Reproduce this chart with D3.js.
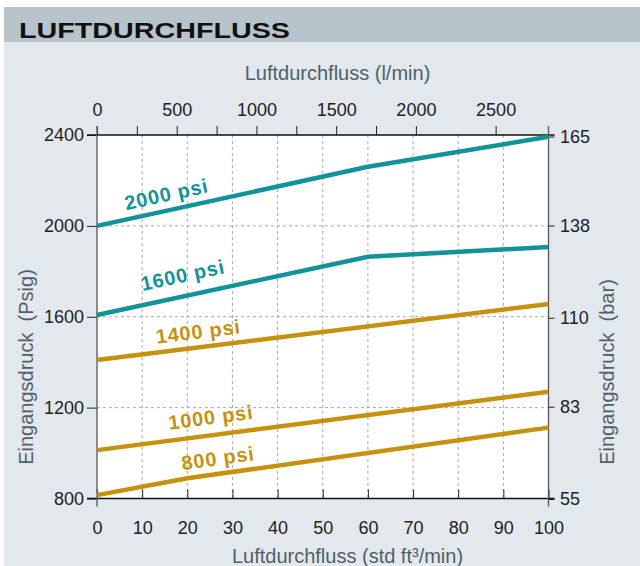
<!DOCTYPE html>
<html>
<head>
<meta charset="utf-8">
<script src="https://cdn.jsdelivr.net/npm/d3@7"></script>
<style>
  body { margin: 0; background: #fff; }
  svg { display: block; font-family: "Liberation Sans", Arial, sans-serif; }
</style>
</head>
<body>
<svg id="chart" width="640" height="566"></svg>
<script>
// Werte (x = std ft3/min, y = psig)
var p2000 = [[0, 2000], [60, 2260], [100, 2392]];
var p1600 = [[0, 1608], [60, 1864], [100, 1907]];
var p1400 = [[0, 1410], [100, 1656]];
var p1000 = [[0, 1013], [100, 1270]];
var p800  = [[0, 815], [20, 889], [100, 1112]];

var seriesNames = ['2000 psi', '1600 psi', '1400 psi', '1000 psi', '800 psi'];
var seriesGroup = ['teal', 'teal', 'gold', 'gold', 'gold'];
// Beschriftungsposition (Mitte der Grundlinie) in Datenwerten
var labelCfm = [15.7, 19.3, 22.6, 25.4, 27];
var labelPsi = [2109, 1753, 1504, 1127, 947];

var cfmTicks = [0, 10, 20, 30, 40, 50, 60, 70, 80, 90, 100];
var lpmTicks = [0, 250, 500, 750, 1000, 1250, 1500, 1750, 2000, 2500];
var psiTicks = [800, 1200, 1600, 2000, 2400];
var barTicks = [55, 83, 110, 138, 165];
var gridCfm = [10, 20, 30, 40, 50, 60, 70, 80, 90];
var gridPsi = [1200, 1600, 2000];

var PSI_PER_BAR = 14.5038;
var LPM_PER_CFM = 28.317;

var colors = { teal: '#12939a', gold: '#c6920e' };

var svg = d3.select('#chart');
var L = 97, R = 548.5, T = 135, B = 498.5;

var x = d3.scaleLinear().domain([0, 100]).range([L, R]);
var xTop = d3.scaleLinear().domain([0, 100 * LPM_PER_CFM]).range([L, R]);
var y = d3.scaleLinear().domain([800, 2400]).range([B, T]);

// Hintergrund
svg.append('rect').attr('x', 4).attr('y', 42).attr('width', 636).attr('height', 524).attr('fill', '#e3e8ec');
svg.append('rect').attr('x', 4).attr('y', 7).attr('width', 636).attr('height', 35).attr('fill', '#b8c4cc');
svg.append('text')
    .attr('x', 19).attr('y', 38)
    .attr('font-size', 21.5).attr('font-weight', 'bold').attr('fill', '#111')
    .attr('textLength', 271).attr('lengthAdjust', 'spacingAndGlyphs')
    .text('LUFTDURCHFLUSS');

svg.append('rect').attr('x', L).attr('y', T).attr('width', R - L).attr('height', B - T).attr('fill', '#fff');

// Gitter
var grid = svg.append('g').attr('stroke', '#a9a9a9').attr('stroke-width', 1).attr('stroke-dasharray', '3,3');
grid.selectAll('line.v').data(gridCfm).enter().append('line')
    .attr('x1', function(d) { return x(d); }).attr('x2', function(d) { return x(d); })
    .attr('y1', T).attr('y2', B);
grid.selectAll('line.h').data(gridPsi).enter().append('line')
    .attr('x1', L).attr('x2', R)
    .attr('y1', function(d) { return y(d); }).attr('y2', function(d) { return y(d); });

// Achsen
function styleAxis(g, size) {
  g.select('.domain').remove();
  g.attr('font-family', null).attr('font-size', size);
  g.selectAll('text').attr('fill', '#222');
  g.selectAll('line').attr('stroke', '#222');
}

svg.append('g').attr('transform', 'translate(' + L + ',0)')
    .call(d3.axisLeft(y).tickValues(psiTicks).tickFormat(d3.format('d')).tickSize(10).tickPadding(3))
    .call(styleAxis, 18);

svg.append('g').attr('transform', 'translate(' + R + ',0)')
    .call(d3.axisRight(y).tickValues(barTicks.map(function(d) { return d * PSI_PER_BAR; }))
      .tickFormat(function(d, i) { return barTicks[i]; }).tickSize(6).tickPadding(5.5))
    .call(styleAxis, 18);

svg.append('g').attr('transform', 'translate(0,' + B + ')')
    .call(d3.axisBottom(x).tickValues(cfmTicks).tickSize(-9).tickPadding(22.5))
    .call(styleAxis, 18);

svg.append('g').attr('transform', 'translate(0,' + T + ')')
    .call(d3.axisTop(xTop).tickValues(lpmTicks).tickSize(9).tickPadding(10)
      .tickFormat(function(d) { return d % 500 === 0 ? d : ''; }))
    .call(styleAxis, 18);

// Rahmen
svg.append('line').attr('x1', L - 10).attr('x2', R + 6).attr('y1', T).attr('y2', T).attr('stroke', '#111').attr('stroke-width', 1.3);
svg.append('line').attr('x1', L - 10).attr('x2', R + 6).attr('y1', B).attr('y2', B).attr('stroke', '#111').attr('stroke-width', 1.3);
svg.append('line').attr('x1', L).attr('x2', L).attr('y1', T - 9).attr('y2', B + 8).attr('stroke', '#555').attr('stroke-width', 1.3);
svg.append('line').attr('x1', R).attr('x2', R).attr('y1', T - 9).attr('y2', B + 8).attr('stroke', '#555').attr('stroke-width', 1.3);

// Kurven
var allSeries = [p2000, p1600, p1400, p1000, p800];
var line = d3.line().x(function(d) { return x(d[0]); }).y(function(d) { return y(d[1]); });

svg.append('g').selectAll('path').data(allSeries).enter().append('path')
    .attr('d', line)
    .attr('fill', 'none')
    .attr('stroke', function(d, i) { return colors[seriesGroup[i]]; })
    .attr('stroke-width', 4.5);

function segAngle(pts, cfm) {
  for (var k = 0; k < pts.length - 1; k++) {
    if (cfm <= pts[k + 1][0] || k === pts.length - 2) {
      var dx = x(pts[k + 1][0]) - x(pts[k][0]);
      var dy = y(pts[k + 1][1]) - y(pts[k][1]);
      return Math.atan2(dy, dx) * 180 / Math.PI;
    }
  }
  return 0;
}

svg.append('g').selectAll('text').data(seriesNames).enter().append('text')
    .attr('transform', function(d, i) {
      return 'translate(' + x(labelCfm[i]) + ',' + y(labelPsi[i]) + ') rotate(' + segAngle(allSeries[i], labelCfm[i]) + ')';
    })
    .attr('text-anchor', 'middle')
    .attr('font-size', 20).attr('font-weight', 'bold')
    .attr('letter-spacing', 0.8)
    .attr('fill', function(d, i) { return colors[seriesGroup[i]]; })
    .text(function(d) { return d; });

// Achsentitel
var titleColor = '#4f5f6b';
svg.append('text').attr('x', 337.5).attr('y', 80).attr('text-anchor', 'middle')
    .attr('font-size', 20).attr('fill', titleColor).text('Luftdurchfluss (l/min)');
svg.append('text').attr('x', 347.5).attr('y', 563).attr('text-anchor', 'middle')
    .attr('font-size', 20).attr('fill', titleColor).text('Luftdurchfluss (std ft³/min)');
svg.append('text').attr('transform', 'translate(33,367) rotate(-90)').attr('text-anchor', 'middle')
    .attr('font-size', 20).attr('fill', titleColor).attr('xml:space', 'preserve').text('Eingangsdruck  (Psig)');
svg.append('text').attr('transform', 'translate(614,372) rotate(-90)').attr('text-anchor', 'middle')
    .attr('font-size', 20).attr('fill', titleColor).attr('xml:space', 'preserve').text('Eingangsdruck  (bar)');
</script>
</body>
</html>
